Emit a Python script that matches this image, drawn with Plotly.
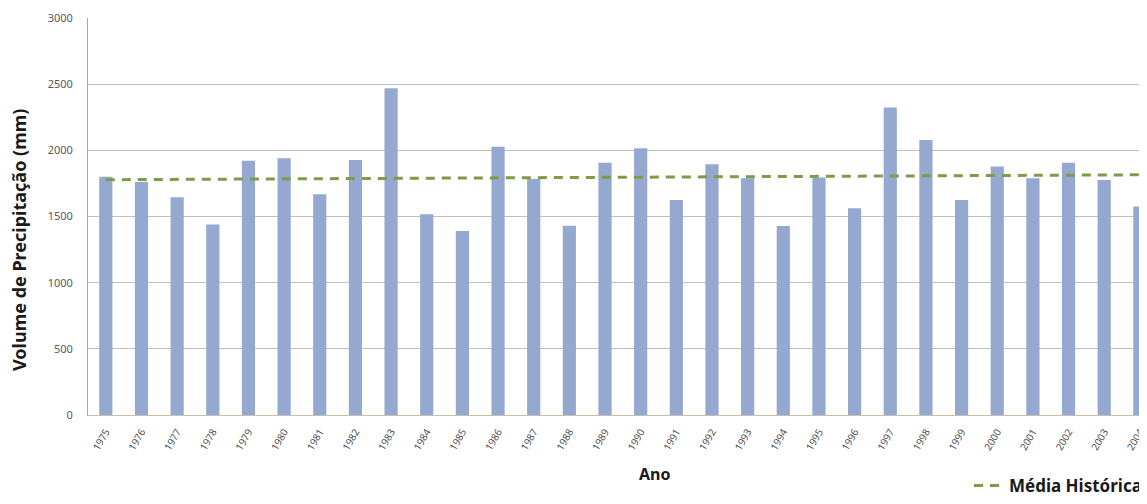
import plotly.graph_objects as go

years = [str(y) for y in range(1975, 2005)]
precip = [1800, 1760, 1645, 1440, 1922, 1940, 1668, 1927, 2470, 1517,
          1391, 2028, 1784, 1431, 1907, 2016, 1625, 1895, 1789, 1429,
          1794, 1562, 2323, 2079, 1625, 1877, 1789, 1907, 1776, 1575]
trend_years = ["1975", "2004"]
trend_values = [1778, 1815]

# page is rendered with an 8px body margin; figure coordinates = page - 8
OFF = 8
W, H = 1147 - OFF, 504 - OFF
L, T = 88 - OFF, 18 - OFF
B = H - (415 - OFF)

fig = go.Figure()
fig.add_trace(go.Bar(x=years, y=precip, marker=dict(color="#94A8D0", line=dict(width=0)),
                     showlegend=False, name="Precipitação"))
fig.add_trace(go.Scatter(x=trend_years, y=trend_values, mode="lines",
                         line=dict(color="#7F9A48", width=3, dash="9px,7px"),
                         name="<b>Média Histórica</b>"))

fig.update_layout(
    width=W, height=H,
    margin=dict(l=L, r=0, t=T, b=B, autoexpand=False),
    plot_bgcolor="white", paper_bgcolor="white",
    bargap=0.63,
    font=dict(family="Noto Sans", color="#595959"),
    xaxis=dict(type="category", range=[-0.5, 29.2], tickangle=-60, automargin=False,
               tickfont=dict(size=10, color="#4d4d4d"), showgrid=False,
               ticklabelstandoff=6,
               showline=True, linecolor="#C9BFA8", linewidth=1, ticks=""),
    yaxis=dict(range=[0, 3000], dtick=500, tickfont=dict(size=11, color="#595959"),
               automargin=False, ticklabelstandoff=12,
               showgrid=True, gridcolor="#BFBFBF", gridwidth=1,
               showline=True, linecolor="#A6A6A6", linewidth=1, ticks="",
               zeroline=False),
    legend=dict(x=1.0, y=0.0, xref="container", yref="container",
                xanchor="right", yanchor="bottom", itemwidth=30,
                font=dict(size=17, color="#1a1a1a"), bgcolor="rgba(0,0,0,0)"),
    annotations=[
        dict(text="<b>Volume de Precipitação (mm)</b>", x=19, y=240,
             xref="paper", yref="paper", showarrow=False, textangle=-90,
             xanchor="center", yanchor="middle",
             font=dict(size=18, color="#1a1a1a")),
        dict(text="<b>Ano</b>", x=654, y=474, xref="paper", yref="paper",
             showarrow=False, xanchor="center", yanchor="middle",
             font=dict(size=16, color="#1a1a1a")),
    ],
)
# convert page-pixel positions of annotations to paper coordinates
pw = 1147 - 88
ph = 415 - 18
for a in fig.layout.annotations:
    a.x = (a.x - 88) / pw
    a.y = (415 - a.y) / ph

fig.write_html("out.html")
